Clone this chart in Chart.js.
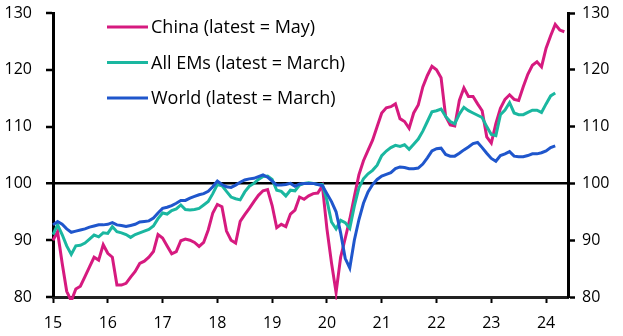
<!DOCTYPE html>
<html>
<head>
<meta charset="utf-8">
<script src="https://cdn.jsdelivr.net/npm/chart.js@4.4.1/dist/chart.umd.min.js"></script>
<style>
html,body{margin:0;padding:0;background:#fff;}
#wrap{width:623px;height:336px;position:relative;}
</style>
</head>
<body>
<div id="wrap"><canvas id="c" width="623" height="336"></canvas></div>
<script>
// Monthly index, Jan 2015 = month 0
const startYear = 2015;
const yearTickLabels = ["15","16","17","18","19","20","21","22","23","24"];
const yTickValues = [80, 90, 100, 110, 120, 130];
const seriesNames = ["China (latest = May)", "All EMs (latest = March)", "World (latest = March)"];

const china = [
  90.0, 91.5, 86.0, 81.0, 79.3, 81.4, 81.9, 83.6, 85.3, 87.0, 86.5, 89.2,
  87.7, 87.0, 82.1, 82.1, 82.4, 83.5, 84.5, 85.9, 86.3, 87.0, 88.0, 91.0,
  90.4, 89.0, 87.6, 88.0, 89.9, 90.2, 90.0, 89.6, 88.9, 89.6, 91.8, 94.8,
  96.3, 95.9, 91.6, 90.0, 89.5, 93.3, 94.5, 95.6, 96.8, 97.9, 98.7, 98.9,
  96.1, 92.2, 92.8, 92.4, 94.6, 95.3, 97.6, 97.2, 97.8, 98.2, 98.3, 99.6,
  92.0, 86.0, 80.8, 87.0, 90.3, 93.7, 97.7, 101.5, 104.0, 105.8, 107.6, 110.0,
  112.4, 113.3, 113.5, 114.0, 111.4, 110.9, 109.7, 112.4, 113.8, 117.0, 119.0, 120.6,
  120.0, 118.6, 111.8, 110.3, 110.1, 114.6, 116.8, 115.3, 115.3, 114.0, 112.8, 108.2,
  107.1, 110.5, 113.2, 114.8, 115.6, 114.8, 114.6, 117.0, 119.2, 120.8, 121.4, 120.5,
  123.8, 126.0, 128.0, 127.0, 126.7
];
const allEMs = [
  91.0, 92.7, 91.0, 89.0, 87.5, 89.0, 89.1, 89.5, 90.2, 90.9, 90.6, 91.3,
  91.2, 92.4, 91.5, 91.3, 91.0, 90.5, 91.0, 91.3, 91.6, 91.9, 92.5, 93.8,
  94.8, 94.6, 95.2, 95.5, 96.2, 95.4, 95.3, 95.4, 95.6, 96.2, 96.8, 98.2,
  99.8, 99.6, 98.6, 97.6, 97.3, 97.1, 98.5, 99.5, 100.0, 100.7, 101.2, 101.3,
  100.7, 98.8, 98.6, 97.8, 98.8, 98.7, 99.7, 100.0, 100.1, 100.0, 99.8, 99.8,
  97.0, 93.2, 92.0, 93.5, 93.1, 92.1, 96.0, 99.2, 100.8, 101.7, 102.3, 103.2,
  104.9, 105.7, 106.3, 106.7, 106.5, 106.8, 106.0, 106.9, 107.8, 109.2, 110.9, 112.6,
  112.8, 113.1, 111.8, 110.9, 110.5, 112.2, 113.4, 112.8, 112.4, 112.0, 111.6, 110.0,
  108.6, 108.4, 112.1, 112.9, 114.2, 112.4, 112.1, 112.1, 112.5, 112.9, 112.9, 112.5,
  114.0, 115.4, 115.9
];
const world = [
  92.7, 93.3, 92.8, 92.0, 91.4, 91.6, 91.8, 92.0, 92.3, 92.5, 92.7, 92.7,
  92.8, 93.1, 92.7, 92.6, 92.4, 92.6, 92.8, 93.2, 93.3, 93.4, 93.9, 94.8,
  95.6, 95.8, 96.1, 96.5, 97.0, 97.0, 97.4, 97.7, 98.0, 98.2, 98.6, 99.4,
  100.4, 99.8, 99.4, 99.3, 99.7, 100.2, 100.6, 100.8, 100.9, 101.2, 101.5, 101.1,
  100.4, 99.7, 99.7, 99.8, 100.0, 99.5, 99.9, 100.0, 100.0, 100.0, 99.8, 99.6,
  98.2, 96.8, 95.0, 91.3, 86.8, 85.1, 90.0, 93.6, 96.5, 98.5, 99.8, 100.7,
  101.3, 101.6, 101.9, 102.6, 102.9, 102.8, 102.6, 102.6, 102.7, 103.4, 104.5, 105.7,
  106.1, 106.2, 105.1, 104.8, 104.8, 105.3, 105.9, 106.4, 107.0, 107.2, 106.3, 105.3,
  104.4, 103.9, 104.9, 105.2, 105.6, 104.8, 104.7, 104.7, 104.9, 105.2, 105.2, 105.4,
  105.7, 106.3, 106.6
];

const colors = ["#d61a7f", "#1ab7a0", "#1f56cc"];
const toPoints = arr => arr.map((v, i) => ({x: i, y: v}));
const FONT = {family: "'Open Sans', sans-serif", size: 16};
const LEGEND_FONT_SIZE = 18;

const legendPlugin = {
  id: 'inlineLegend',
  afterDraw(chart) {
    const ctx = chart.ctx;
    ctx.save();
    ctx.font = LEGEND_FONT_SIZE + "px " + FONT.family;
    ctx.textBaseline = 'middle';
    ctx.fillStyle = '#000';
    const ys = [27, 62.5, 98];
    chart.data.datasets.forEach((ds, i) => {
      ctx.strokeStyle = ds.borderColor;
      ctx.lineWidth = 3;
      ctx.beginPath();
      ctx.moveTo(107, ys[i]);
      ctx.lineTo(148, ys[i]);
      ctx.stroke();
      ctx.fillText(ds.label, 151, ys[i] + 1);
    });
    ctx.restore();
  }
};

const noPad = s => { s.paddingTop = 0; s.paddingBottom = 0; s.paddingLeft = 0; s.paddingRight = 0; };

new Chart(document.getElementById('c'), {
  type: 'line',
  data: {
    datasets: [
      {label: seriesNames[0], data: toPoints(china), borderColor: colors[0], order: 3},
      {label: seriesNames[1], data: toPoints(allEMs), borderColor: colors[1], order: 2},
      {label: seriesNames[2], data: toPoints(world), borderColor: colors[2], order: 1}
    ].map(d => Object.assign(d, {borderWidth: 3, pointRadius: 0, tension: 0, fill: false, clip: 3}))
  },
  options: {
    responsive: false,
    animation: false,
    layout: {padding: {top: 13, left: 0, right: 0, bottom: 0}},
    plugins: {legend: {display: false}, tooltip: {enabled: false}},
    scales: {
      x: {
        type: 'linear',
        min: 0,
        max: 112.8,
        afterBuildTicks: s => { s.ticks = yearTickLabels.map((_, i) => ({value: i * 12})); },
        afterFit: s => { s.height = 39; noPad(s); },
        ticks: {
          callback: (v, i) => yearTickLabels[i],
          font: FONT, color: '#000', padding: 11, maxRotation: 0, autoSkip: false
        },
        grid: {drawOnChartArea: false, drawTicks: true, tickLength: 6, tickColor: '#000', tickWidth: 2},
        border: {display: true, color: '#222', width: 3}
      },
      y: {
        position: 'left',
        min: 80, max: 130,
        afterBuildTicks: s => { s.ticks = yTickValues.map(v => ({value: v})); },
        afterFit: s => { s.width = 53; noPad(s); },
        ticks: {font: FONT, color: '#000', padding: 14},
        grid: {
          color: c => (c.tick && c.tick.value === 100) ? '#000' : 'rgba(0,0,0,0)',
          lineWidth: c => (c.tick && c.tick.value === 100) ? 2.5 : 0,
          drawTicks: true, tickLength: 7, tickColor: '#000', tickWidth: 2.5
        },
        border: {display: true, color: '#000', width: 3}
      },
      y2: {
        position: 'right',
        min: 80, max: 130,
        afterBuildTicks: s => { s.ticks = yTickValues.map(v => ({value: v})); },
        afterFit: s => { s.width = 55; noPad(s); },
        ticks: {font: FONT, color: '#000', padding: 7},
        grid: {drawOnChartArea: false, drawTicks: true, tickLength: 7, tickColor: '#000', tickWidth: 2.5},
        border: {display: true, color: '#000', width: 3}
      }
    }
  },
  plugins: [legendPlugin]
});
</script>
</body>
</html>
